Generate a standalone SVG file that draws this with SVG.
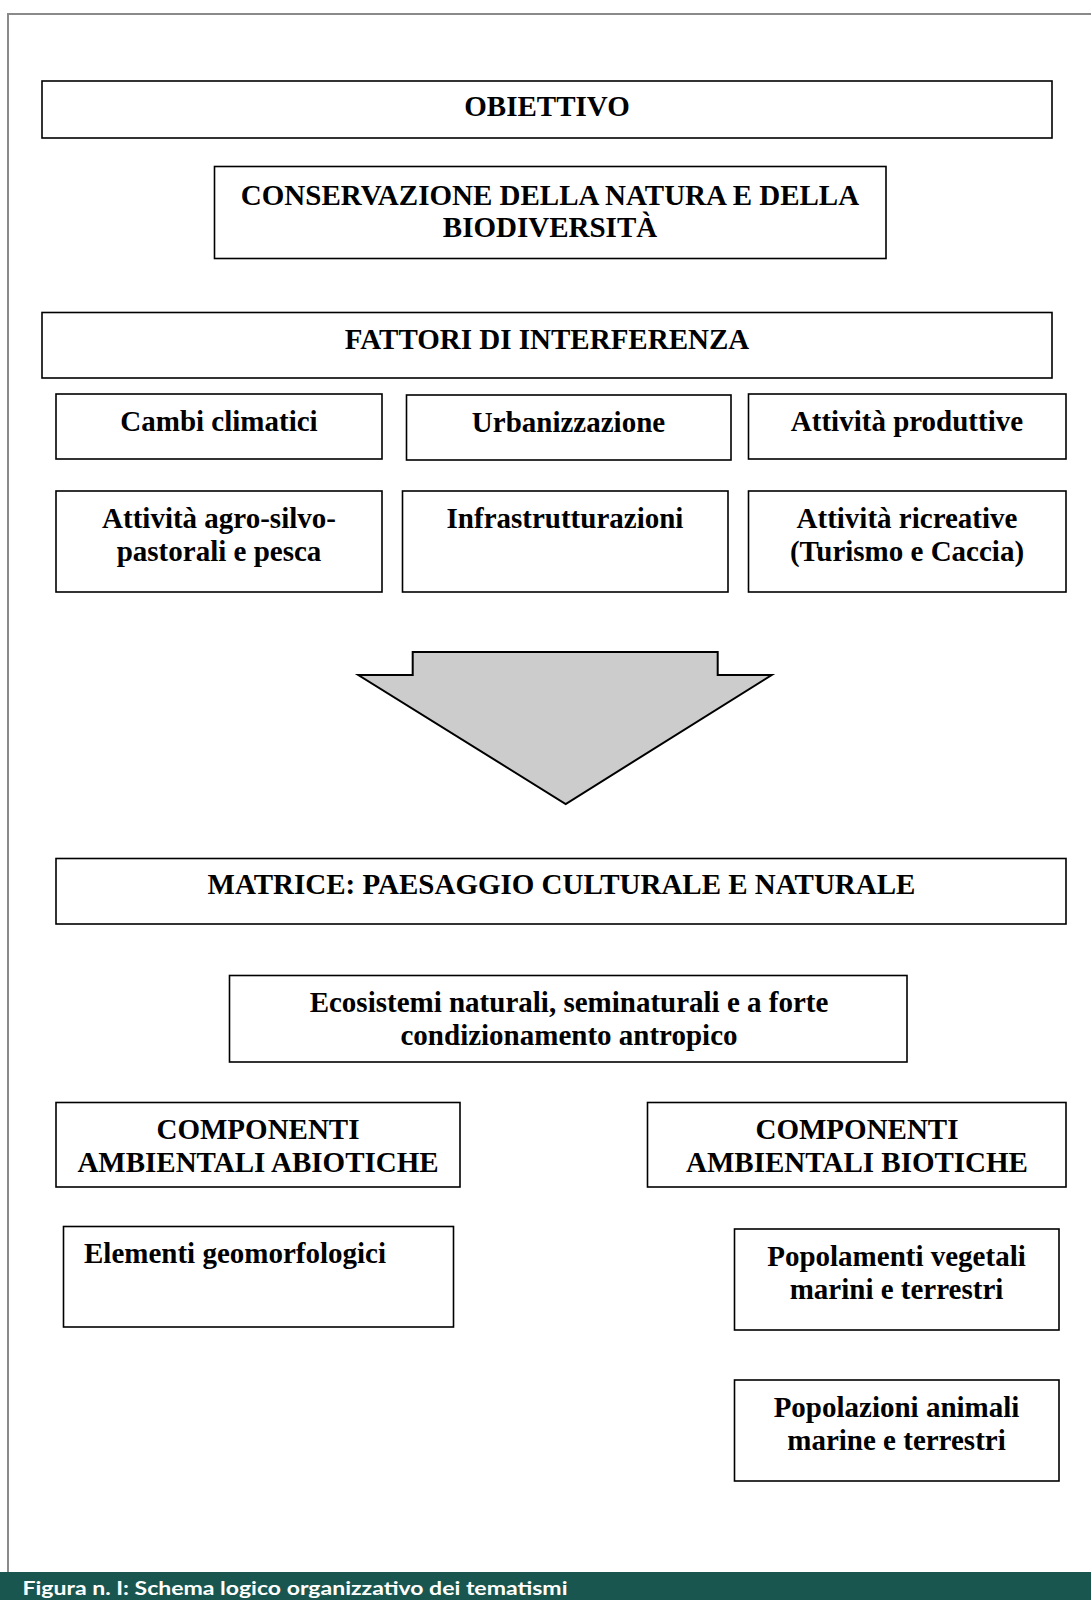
<svg xmlns="http://www.w3.org/2000/svg" width="1091" height="1600" viewBox="0 0 1091 1600">
  <style>
    .box { fill: #ffffff; stroke: #000000; stroke-width: 1.6; }
    .lbl { font-family: "Liberation Serif", "Times New Roman", serif; font-weight: bold; font-size: 29px; fill: #000000; text-anchor: middle; }
    .left { text-anchor: start; }
    .frame { fill: none; stroke: #8a8a8a; stroke-width: 2; }
    .caption { font-family: "Lato", "Open Sans", sans-serif; font-weight: bold; font-size: 19.5px; fill: #ffffff; }
  </style>

  <rect width="1091" height="1600" fill="#ffffff"/>

  <!-- page frame: top and left rules -->
  <path class="frame" d="M8,1572 V14 H1091"/>

  <!-- objective -->
  <g id="obiettivo">
    <rect class="box" x="42" y="81" width="1010" height="57"/>
    <text class="lbl" x="547" y="115.5">OBIETTIVO</text>
  </g>

  <g id="conservazione">
    <rect class="box" x="214.5" y="166.5" width="671.5" height="92"/>
    <text class="lbl" x="550" y="204.5">CONSERVAZIONE DELLA NATURA E DELLA</text>
    <text class="lbl" x="550" y="237">BIODIVERSITÀ</text>
  </g>

  <!-- interference factors -->
  <g id="fattori">
    <rect class="box" x="42" y="312.5" width="1010" height="65.5"/>
    <text class="lbl" x="547" y="349">FATTORI DI INTERFERENZA</text>
  </g>

  <g id="cambi-climatici">
    <rect class="box" x="56" y="394" width="326" height="65"/>
    <text class="lbl" x="219" y="431">Cambi climatici</text>
  </g>

  <g id="urbanizzazione">
    <rect class="box" x="406.5" y="395" width="324.5" height="65"/>
    <text class="lbl" x="568.5" y="432">Urbanizzazione</text>
  </g>

  <g id="attivita-produttive">
    <rect class="box" x="748.5" y="394" width="317.5" height="65"/>
    <text class="lbl" x="907" y="431">Attività produttive</text>
  </g>

  <g id="attivita-agro">
    <rect class="box" x="56" y="491" width="326" height="101"/>
    <text class="lbl" x="219" y="527.5">Attività agro-silvo-</text>
    <text class="lbl" x="219" y="560.5">pastorali e pesca</text>
  </g>

  <g id="infrastrutturazioni">
    <rect class="box" x="402.5" y="491" width="325.5" height="101"/>
    <text class="lbl" x="565" y="527.5">Infrastrutturazioni</text>
  </g>

  <g id="attivita-ricreative">
    <rect class="box" x="748.5" y="491" width="317.5" height="101"/>
    <text class="lbl" x="907" y="527.5">Attività ricreative</text>
    <text class="lbl" x="907" y="560.5">(Turismo e Caccia)</text>
  </g>

  <!-- connector: block arrow from factors to landscape matrix -->
  <g id="connectors">
    <polygon points="412.7,652 717.7,652 717.7,675 771.7,675 565.7,804 358.3,675 412.7,675"
             fill="#cccccc" stroke="#000000" stroke-width="2" stroke-linejoin="miter"/>
  </g>

  <!-- landscape matrix -->
  <g id="matrice">
    <rect class="box" x="56" y="858.5" width="1010" height="65.5"/>
    <text class="lbl" x="561.5" y="894">MATRICE: PAESAGGIO CULTURALE E NATURALE</text>
  </g>

  <g id="ecosistemi">
    <rect class="box" x="229.5" y="975.5" width="677.5" height="86.5"/>
    <text class="lbl" x="569" y="1011.5">Ecosistemi naturali, seminaturali e a forte</text>
    <text class="lbl" x="569" y="1044.5">condizionamento antropico</text>
  </g>

  <g id="componenti-abiotiche">
    <rect class="box" x="56" y="1102.5" width="404" height="84.5"/>
    <text class="lbl" x="258" y="1139">COMPONENTI</text>
    <text class="lbl" x="258" y="1171.5">AMBIENTALI ABIOTICHE</text>
  </g>

  <g id="componenti-biotiche">
    <rect class="box" x="647.5" y="1102.5" width="418.5" height="84.5"/>
    <text class="lbl" x="857" y="1139">COMPONENTI</text>
    <text class="lbl" x="857" y="1171.5">AMBIENTALI BIOTICHE</text>
  </g>

  <g id="elementi-geomorfologici">
    <rect class="box" x="63.5" y="1226.5" width="390" height="100.5"/>
    <text class="lbl left" x="84" y="1262.5">Elementi geomorfologici</text>
  </g>

  <g id="popolamenti-vegetali">
    <rect class="box" x="734.5" y="1229" width="324.5" height="101"/>
    <text class="lbl" x="896.5" y="1265.5">Popolamenti vegetali</text>
    <text class="lbl" x="896.5" y="1298.5">marini e terrestri</text>
  </g>

  <g id="popolazioni-animali">
    <rect class="box" x="734.5" y="1380" width="324.5" height="101"/>
    <text class="lbl" x="896.5" y="1416.5">Popolazioni animali</text>
    <text class="lbl" x="896.5" y="1449.5">marine e terrestri</text>
  </g>

  <!-- caption band -->
  <rect x="0" y="1572" width="1091" height="28" fill="#1a5650"/>
  <text class="caption" x="22.5" y="1595" textLength="545" lengthAdjust="spacingAndGlyphs">Figura n. I: Schema logico organizzativo dei tematismi</text>
</svg>
